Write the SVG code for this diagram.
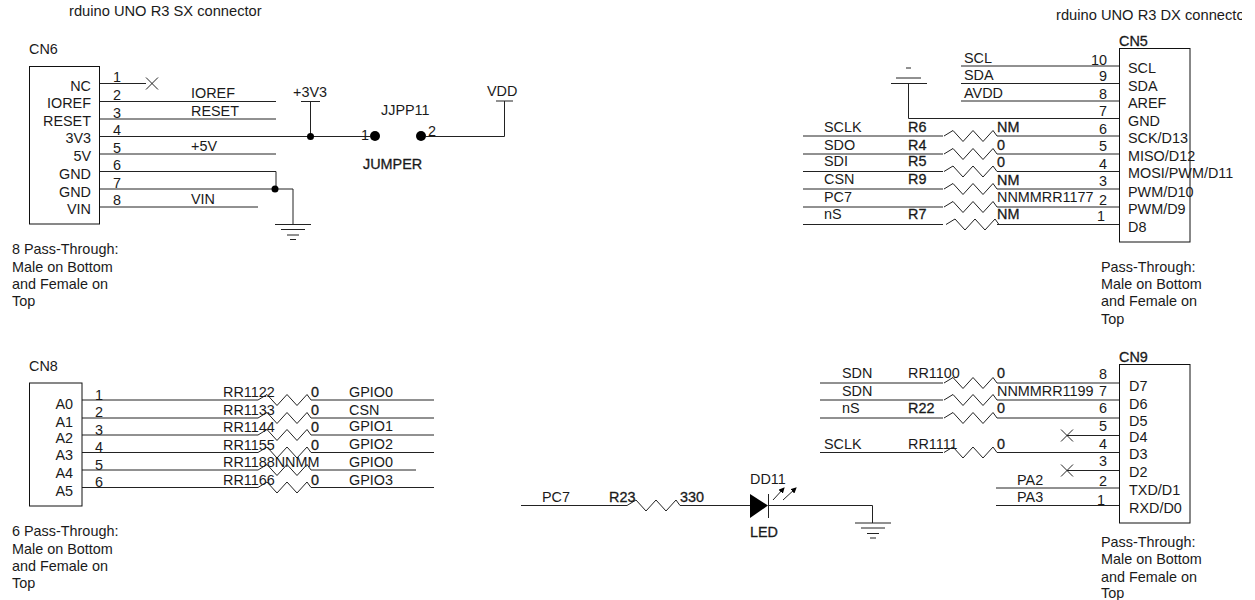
<svg xmlns="http://www.w3.org/2000/svg" width="1255" height="600" viewBox="0 0 1255 600">
<style>
text{font-family:"Liberation Sans",Arial,sans-serif;font-size:14.4px;fill:#1a1a1a}
text.t{font-size:14.7px}
.e{text-anchor:end}
.b{stroke:#1a1a1a;stroke-width:.3}
.w,.box,.sym{fill:none;stroke:#222;stroke-width:1}
.box{stroke:#111}
.dot{fill:#000}
</style>
<defs>
<path id="res" class="sym" d="M0 0L9-5.5L19 5.5L29-5.5L39 5.5L49-5.5L53 0"/>
<path id="nc" class="sym" d="M-6-6L6 6M-6 6L6-6"/>
<g id="gnd" class="sym"><path d="M-18 0H18M-12 5H12M-6 10.500H6M-3 15H3"/></g>
<marker id="ah" markerWidth="6" markerHeight="6" refX="5" refY="3" orient="auto"><path d="M0 0L6 3L0 6Z" fill="#000"/></marker>
<clipPath id="edge"><rect x="0" y="0" width="1242" height="600"/></clipPath>
</defs>
<rect width="1255" height="600" fill="#fff"/>
<g id="connectors" class="w">
<path d="M100 83.500H146M100 101.500H276M100 119H276M100 136.500H370M100 154H276M100 171.500H276V189M100 189H293V224M100 207H258"/>
<path d="M310.500 101V136.500M426 136.500H504.500V101"/>
<path d="M961 66H1119M961 83.500H1119M961 101H1119M908.500 83V118.500H1119"/>
<path d="M803 136H943M997 136H1119M803 154H943M997 154H1119M803 171.500H943M997 171.500H1119M803 189H943M997 189H1119M803 207H943M997 207H1119M803 224.500H943M997 224.500H1119"/>
<path d="M82 400H258M311 400H434M82 418H258M311 418H434M82 435H258M311 435H434M82 452.500H258M311 452.500H434M82 470H258M311 470H416M82 487.500H258M311 487.500H434"/>
<path d="M820 383H943M997 383H1119M820 400H943M997 400H1119M820 418H943M997 418H1119M820 452.500H943M997 452.500H1119M1067 435.500H1119M1067 470.500H1119M996 488H1119M996 505.500H1119"/>
<path d="M521 505.500H627M680 505.500H750M768 505.500H872.500V523"/>
</g>
<g id="title-sx"><text class="t" x="69" y="16">rduino UNO R3 SX connector</text></g>
<g id="title-dx" clip-path="url(#edge)"><text class="t" x="1056" y="20">rduino UNO R3 DX connector</text></g>
<g id="CN6">
<rect class="box" x="29.500" y="66.500" width="70" height="157.500"/>
<text x="29" y="54">CN6</text>
<text class="e" x="91" y="91">NC</text><text class="e" x="91" y="108">IOREF</text><text class="e" x="91" y="126">RESET</text><text class="e" x="91" y="143">3V3</text><text class="e" x="91" y="161">5V</text><text class="e" x="91" y="179">GND</text><text class="e" x="91" y="197">GND</text><text class="e" x="91" y="214">VIN</text>
<text x="113" y="82">1</text><text x="113" y="100">2</text><text x="113" y="118">3</text><text x="113" y="135">4</text><text x="113" y="153">5</text><text x="113" y="170">6</text><text x="113" y="188">7</text><text x="113" y="205">8</text>
<text x="12" y="254">8 Pass-Through:</text><text x="12" y="272">Male on Bottom</text><text x="12" y="289">and Female on</text><text x="12" y="306">Top</text>
</g>
<g id="CN6-nets">
<use href="#nc" x="152" y="83.500"/>
<text x="191" y="98">IOREF</text><text x="191" y="116">RESET</text><text x="191" y="151">+5V</text><text x="191" y="204">VIN</text>
<circle class="dot" cx="275" cy="189" r="3.500"/>
<use href="#gnd" x="293" y="224.500"/>
</g>
<g id="pwr-3v3"><path class="sym" d="M301 101.500H320"/><circle class="dot" cx="310.500" cy="136.500" r="3.500"/><text x="293" y="97">+3V3</text></g>
<g id="JP1">
<circle class="dot" cx="375" cy="136" r="5"/><circle class="dot" cx="421" cy="136" r="5"/>
<text x="361" y="140">1</text><text x="428" y="136">2</text>
<text x="381" y="115">JJPP11</text><text class="b" x="363" y="169">JUMPER</text>
</g>
<g id="pwr-vdd"><path class="sym" d="M496 101H513"/><text x="487" y="96">VDD</text></g>
<g id="CN5">
<rect class="box" x="1119.500" y="48.500" width="70.500" height="193.500"/>
<text class="b" x="1119" y="46">CN5</text>
<g clip-path="url(#edge)"><text x="1128" y="73">SCL</text><text x="1128" y="91">SDA</text><text x="1128" y="108">AREF</text><text x="1128" y="126">GND</text><text x="1128" y="143">SCK/D13</text><text x="1128" y="161">MISO/D12</text><text x="1128" y="178">MOSI/PWM/D11</text><text x="1128" y="197">PWM/D10</text><text x="1128" y="214">PWM/D9</text><text x="1128" y="232">D8</text></g>
<text class="e" x="1107" y="65">10</text><text class="e" x="1107" y="81">9</text><text class="e" x="1107" y="99">8</text><text class="e" x="1107" y="116">7</text><text class="e" x="1107" y="134">6</text><text class="e" x="1107" y="151">5</text><text class="e" x="1107" y="169">4</text><text class="e" x="1107" y="186">3</text><text class="e" x="1107" y="205">2</text><text class="e" x="1105" y="221">1</text>
<text x="1101" y="272">Pass-Through:</text><text x="1101" y="289">Male on Bottom</text><text x="1101" y="306">and Female on</text><text x="1101" y="324">Top</text>
</g>
<g id="CN5-nets">
<text x="964" y="63">SCL</text><text x="964" y="80">SDA</text><text x="964" y="98">AVDD</text>
<path class="sym" d="M891 83.500H927M896 78H921M906 68H911"/>
<text x="824" y="132">SCLK</text><text x="824" y="150">SDO</text><text x="824" y="166">SDI</text><text x="824" y="184">CSN</text><text x="824" y="202">PC7</text><text x="824" y="219">nS</text>
</g>
<g id="R6"><use href="#res" x="944" y="136"/><text class="b" x="908" y="132">R6</text><text class="b" x="997" y="132">NM</text></g>
<g id="R4"><use href="#res" x="944" y="154"/><text class="b" x="908" y="150">R4</text><text class="b" x="997" y="150">0</text></g>
<g id="R5"><use href="#res" x="944" y="171.500"/><text class="b" x="908" y="166">R5</text><text class="b" x="997" y="167">0</text></g>
<g id="R9"><use href="#res" x="944" y="189"/><text class="b" x="908" y="184">R9</text><text class="b" x="997" y="185">NM</text></g>
<g id="R17"><use href="#res" x="944" y="207"/><text x="997" y="202">NNMMRR1177</text></g>
<g id="R7"><use href="#res" x="946" y="224.500"/><text class="b" x="908" y="219">R7</text><text class="b" x="997" y="219">NM</text></g>
<g id="CN8">
<rect class="box" x="29.500" y="383" width="52.500" height="123"/>
<text x="29" y="371">CN8</text>
<text class="e" x="73" y="409">A0</text><text class="e" x="73" y="427">A1</text><text class="e" x="73" y="443">A2</text><text class="e" x="73" y="460">A3</text><text class="e" x="73" y="478">A4</text><text class="e" x="73" y="496">A5</text>
<text x="95" y="400">1</text><text x="95" y="417">2</text><text x="95" y="435">3</text><text x="95" y="452">4</text><text x="95" y="470">5</text><text x="95" y="487">6</text>
<text x="12" y="536">6 Pass-Through:</text><text x="12" y="554">Male on Bottom</text><text x="12" y="571">and Female on</text><text x="12" y="588">Top</text>
</g>
<g id="R12"><use href="#res" x="258" y="400"/><text x="223" y="397">RR1122</text><text class="b" x="311" y="397">0</text><text x="349" y="397">GPIO0</text></g>
<g id="R13"><use href="#res" x="258" y="418"/><text x="223" y="415">RR1133</text><text class="b" x="311" y="415">0</text><text x="349" y="415">CSN</text></g>
<g id="R14"><use href="#res" x="258" y="435"/><text x="223" y="432">RR1144</text><text class="b" x="311" y="432">0</text><text x="349" y="431">GPIO1</text></g>
<g id="R15"><use href="#res" x="258" y="452.500"/><text x="223" y="450">RR1155</text><text class="b" x="311" y="450">0</text><text x="349" y="449">GPIO2</text></g>
<g id="R18"><use href="#res" x="258" y="470"/><text x="223" y="467">RR1188NNMM</text><text x="349" y="467">GPIO0</text></g>
<g id="R16"><use href="#res" x="258" y="487.500"/><text x="223" y="485">RR1166</text><text class="b" x="311" y="485">0</text><text x="349" y="485">GPIO3</text></g>
<g id="CN9">
<rect class="box" x="1119.500" y="364.500" width="70.500" height="158.500"/>
<text class="b" x="1119" y="362">CN9</text>
<text x="1129" y="391">D7</text><text x="1129" y="409">D6</text><text x="1129" y="426">D5</text><text x="1129" y="442">D4</text><text x="1129" y="459">D3</text><text x="1129" y="477">D2</text><text x="1129" y="495">TXD/D1</text><text x="1129" y="513">RXD/D0</text>
<text class="e" x="1107" y="379">8</text><text class="e" x="1107" y="396">7</text><text class="e" x="1107" y="413">6</text><text class="e" x="1107" y="431">5</text><text class="e" x="1107" y="449">4</text><text class="e" x="1107" y="466">3</text><text class="e" x="1107" y="486">2</text><text class="e" x="1105" y="505">1</text>
<text x="1101" y="547">Pass-Through:</text><text x="1101" y="564">Male on Bottom</text><text x="1101" y="582">and Female on</text><text x="1101" y="598">Top</text>
</g>
<g id="CN9-nets">
<text x="842" y="378">SDN</text><text x="842" y="396">SDN</text><text x="842" y="413">nS</text><text x="824" y="449">SCLK</text>
<text x="1017" y="485">PA2</text><text x="1017" y="502">PA3</text>
<use href="#nc" x="1067" y="435.500"/><use href="#nc" x="1067" y="470.500"/>
</g>
<g id="R10"><use href="#res" x="944" y="383"/><text x="908" y="378">RR1100</text><text class="b" x="997" y="378">0</text></g>
<g id="R19"><use href="#res" x="944" y="400"/><text x="997" y="396">NNMMRR1199</text></g>
<g id="R22"><use href="#res" x="944" y="418"/><text class="b" x="908" y="413">R22</text><text class="b" x="997" y="413">0</text></g>
<g id="R11"><use href="#res" x="944" y="452.500"/><text x="908" y="449">RR1111</text><text class="b" x="997" y="449">0</text></g>
<g id="R23"><use href="#res" x="627" y="505.500"/><text x="542" y="502">PC7</text><text class="b" x="609" y="502">R23</text><text class="b" x="680" y="502">330</text></g>
<g id="D1">
<path d="M750 494L768 505.500L750 518Z" fill="#000"/><path class="sym" d="M768.500 494V518"/>
<path class="sym" marker-end="url(#ah)" d="M773 500L784 488"/><path class="sym" marker-end="url(#ah)" d="M783 500L796 488"/>
<text x="750" y="484">DD11</text><text class="b" x="750" y="537">LED</text>
</g>
<g id="gnd-led"><use href="#gnd" x="873" y="523"/></g>
</svg>
